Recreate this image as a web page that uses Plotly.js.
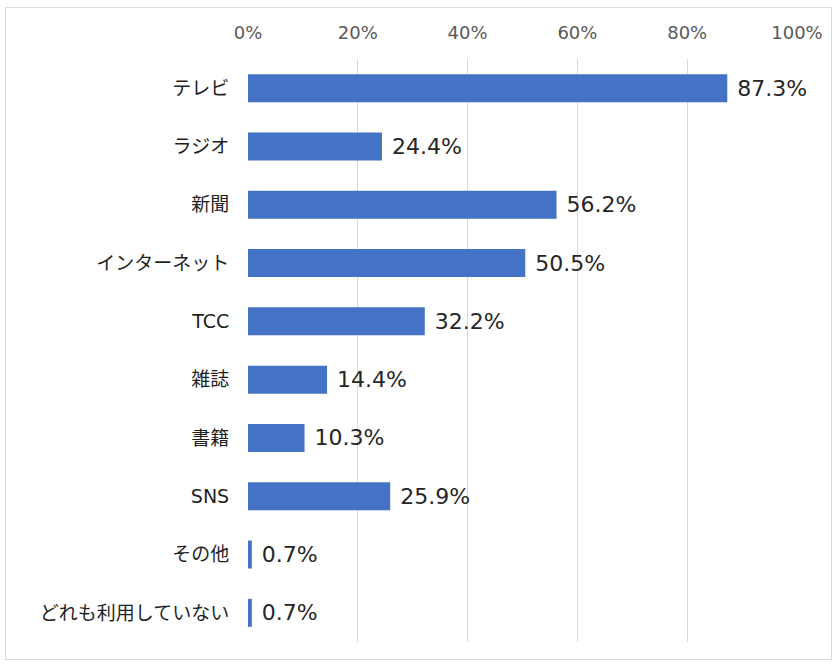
<!DOCTYPE html>
<html><head><meta charset="utf-8">
<script src="https://cdn.plot.ly/plotly-3.0.1.min.js"></script>
<style>
html,body{margin:0;padding:0;background:#fff;}
#wrap{position:relative;width:837px;height:666px;}
#chart{width:837px;height:666px;}
#frame{position:absolute;left:5px;top:7px;width:825px;height:651px;border:1px solid #d9d9d9;pointer-events:none;}
</style></head>
<body><div id="wrap"><div id="chart"></div><div id="frame"></div></div>
<script>
const categories = ["テレビ","ラジオ","新聞","インターネット","TCC","雑誌","書籍","SNS","その他","どれも利用していない"];
const values = [87.3, 24.4, 56.2, 50.5, 32.2, 14.4, 10.3, 25.9, 0.7, 0.7];
const tickVals = [0,20,40,60,80,100];
const tickText = ["0%","20%","40%","60%","80%","100%"];

const FONT = '"DejaVu Sans", "Noto Sans CJK JP", sans-serif';
Plotly.newPlot('chart', [{
  type:'bar', orientation:'h', x: values, y: categories,
  marker:{color:'#4472C4'},
  width:0.48,
  text: values.map(v => ' ' + v.toFixed(1) + '%'),
  textposition:'outside', cliponaxis:false, constraintext:'none',
  textfont:{family:FONT, size:22, color:'#262626'},
  hoverinfo:'none'
}], {
  width:837, height:666,
  margin:{l:248, r:40, t:59, b:24},
  paper_bgcolor:'#fff', plot_bgcolor:'#fff',
  showlegend:false,
  font:{family:FONT, color:'#262626'},
  xaxis:{side:'top', range:[0,100], tickvals:tickVals, ticktext:tickText,
    showgrid:true, gridcolor:'#d9d9d9', gridwidth:1, zeroline:false,
    showline:false, ticks:'outside', ticklen:12, tickcolor:'rgba(0,0,0,0)',
    tickfont:{size:18, color:'#595959'}, fixedrange:true},
  yaxis:{autorange:'reversed', showgrid:false, zeroline:false, showline:false,
    ticks:'outside', ticklen:14, tickcolor:'rgba(0,0,0,0)',
    tickfont:{size:19, color:'#1f1f1f'}, fixedrange:true}
}, {displayModeBar:false, staticPlot:true});
</script></body></html>
